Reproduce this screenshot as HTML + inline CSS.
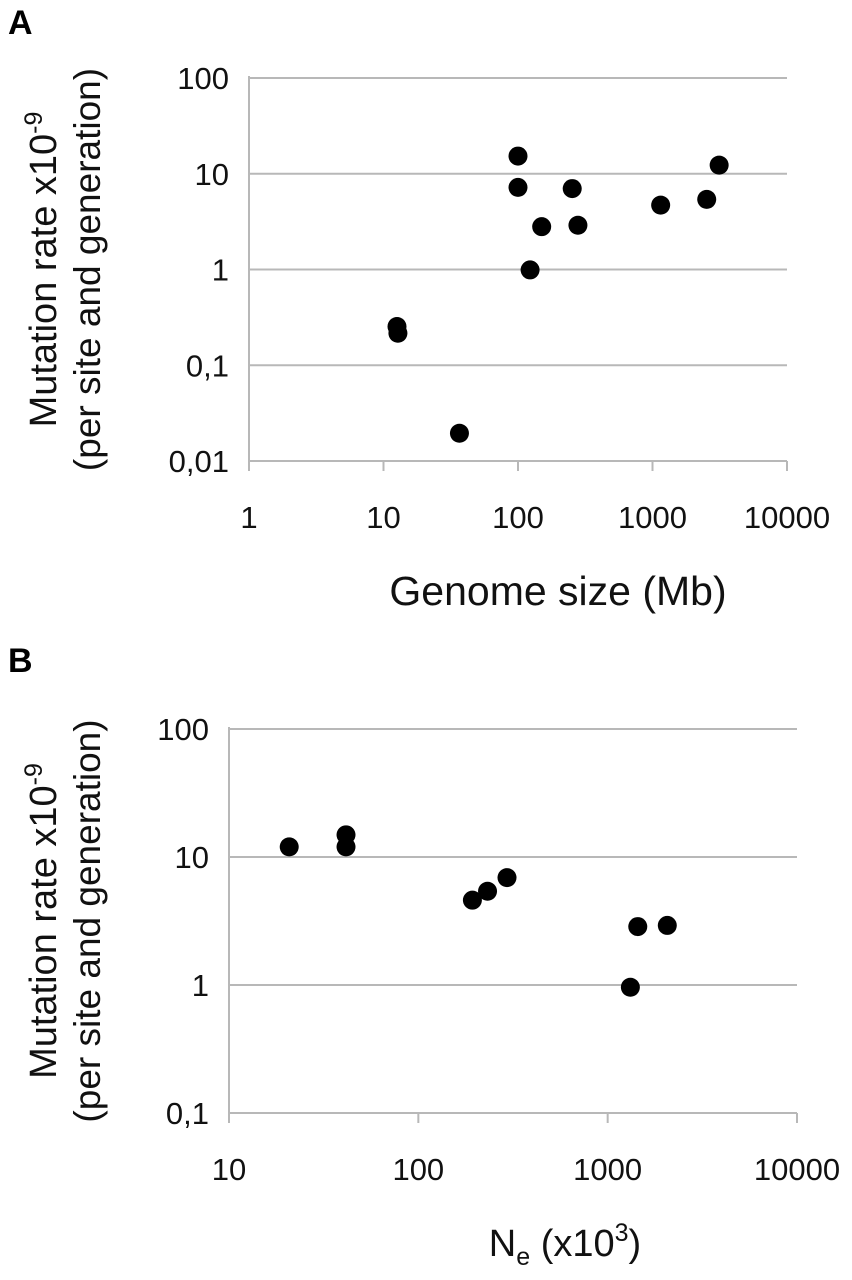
<!DOCTYPE html>
<html><head><meta charset="utf-8"><style>
html,body{margin:0;padding:0;background:#fff;}
svg{display:block;font-family:"Liberation Sans",Arial,sans-serif;}
</style></head><body>
<svg id="chart" width="852" height="1280" viewBox="0 0 852 1280" xmlns="http://www.w3.org/2000/svg">
<text x="8" y="34" font-size="34" font-weight="bold">A</text>
<text x="8" y="672" font-size="34" font-weight="bold">B</text>
<g id="pa"></g>
<g id="pb"></g>
</svg>
<script>
// Panel A data
const aGenomeSize = [100, 100, 253, 150, 279, 123, 1150, 2530, 3130, 12.6, 12.8, 36.7];
const aMutRate = [15.3, 7.2, 7.0, 2.8, 2.9, 0.99, 4.7, 5.4, 12.3, 0.254, 0.216, 0.0195];
const aXTicks = [1, 10, 100, 1000, 10000];
const aXTickLabels = ["1", "10", "100", "1000", "10000"];
const aYTicks = [0.01, 0.1, 1, 10, 100];
const aYTickLabels = ["0,01", "0,1", "1", "10", "100"];
// Panel B data
const bNe = [20.8, 41.5, 41.5, 193, 232, 294, 1442, 2065, 1318];
const bMutRate = [12.0, 14.9, 12.0, 4.6, 5.4, 6.9, 2.86, 2.92, 0.96];
const bXTicks = [10, 100, 1000, 10000];
const bXTickLabels = ["10", "100", "1000", "10000"];
const bYTicks = [0.1, 1, 10, 100];
const bYTickLabels = ["0,1", "1", "10", "100"];

const NS = "http://www.w3.org/2000/svg";
function mk(parent, tag, attrs, text) {
  const e = document.createElementNS(NS, tag);
  for (const k in attrs) e.setAttribute(k, attrs[k]);
  if (text !== undefined) e.textContent = text;
  parent.appendChild(e);
  return e;
}
function logScale(d0, d1, r0, r1) {
  const l0 = Math.log10(d0), l1 = Math.log10(d1);
  return v => r0 + (Math.log10(v) - l0) / (l1 - l0) * (r1 - r0);
}
function panel(g, cfg) {
  const x = logScale(cfg.xd[0], cfg.xd[1], cfg.left, cfg.right);
  const y = logScale(cfg.yd[0], cfg.yd[1], cfg.bottom, cfg.top);
  cfg.yTicks.forEach((t, i) => {
    const yy = y(t);
    if (i > 0) {
      const gl = mk(g, "line", {x1: cfg.left, x2: cfg.right, y1: yy, y2: yy, stroke: "#b8b8b8", "stroke-width": 2});
      
      
    }
    const tl = mk(g, "text", {x: cfg.left - 20, y: yy + 11, "font-size": 31, "text-anchor": "end", fill: "#111"}, cfg.yTickLabels[i]);
    
    
  });
  const xa = mk(g, "line", {x1: cfg.left, x2: cfg.right, y1: cfg.bottom, y2: cfg.bottom, stroke: "#b8b8b8", "stroke-width": 2});
  
  
  const ya = mk(g, "line", {x1: cfg.left, x2: cfg.left, y1: cfg.top - 2, y2: cfg.bottom + 10, stroke: "#b8b8b8", "stroke-width": 2});
  
  
  cfg.xTicks.forEach((t, i) => {
    const xx = x(t);
    const tk = mk(g, "line", {x1: xx, x2: xx, y1: cfg.bottom, y2: cfg.bottom + 10, stroke: "#b8b8b8", "stroke-width": 2});
    
    
    const tl = mk(g, "text", {x: xx, y: cfg.bottom + 67, "font-size": 31, "text-anchor": "middle", fill: "#111"}, cfg.xTickLabels[i]);
    
    
  });
  cfg.xs.forEach((v, i) => {
    const c = mk(g, "circle", {cx: x(v), cy: y(cfg.ys[i]), r: 9.5, fill: "#000"});
    
    
  });
  const cy = (cfg.top + cfg.bottom) / 2;
  const t1 = mk(g, "text", {x: 0, y: 0, "font-size": 38, "text-anchor": "middle", fill: "#111", transform: `translate(56,${cy}) rotate(-90)`});
  t1.appendChild(document.createTextNode("Mutation rate x10"));
  mk(t1, "tspan", {dy: -14, "font-size": 25}, "-9");
  
  
  const t2 = mk(g, "text", {x: 0, y: 0, "font-size": 37, "text-anchor": "middle", fill: "#111", transform: `translate(100,${cy}) rotate(-90)`}, "(per site and generation)");
  
  
  return {x, y};
}
panel(document.getElementById("pa"), {
  xd: [1, 10000], yd: [0.01, 100], left: 249, right: 787, top: 78, bottom: 461,
  xTicks: aXTicks, xTickLabels: aXTickLabels, yTicks: aYTicks, yTickLabels: aYTickLabels,
  xs: aGenomeSize, ys: aMutRate
});
panel(document.getElementById("pb"), {
  xd: [10, 10000], yd: [0.1, 100], left: 229, right: 797, top: 729, bottom: 1113,
  xTicks: bXTicks, xTickLabels: bXTickLabels, yTicks: bYTicks, yTickLabels: bYTickLabels,
  xs: bNe, ys: bMutRate
});
const ga = document.getElementById("pa");
const xt = mk(ga, "text", {x: 558, y: 605, "font-size": 41, "text-anchor": "middle", fill: "#111"}, "Genome size (Mb)");


const gb = document.getElementById("pb");
const xb = mk(gb, "text", {x: 565, y: 1256, "font-size": 38, "text-anchor": "middle", fill: "#111"});
xb.appendChild(document.createTextNode("N"));
mk(xb, "tspan", {dy: 9, "font-size": 25}, "e");
mk(xb, "tspan", {dy: -9}, " (x10");
mk(xb, "tspan", {dy: -15, "font-size": 25}, "3");
mk(xb, "tspan", {dy: 15}, ")");


</script>
</body></html>
